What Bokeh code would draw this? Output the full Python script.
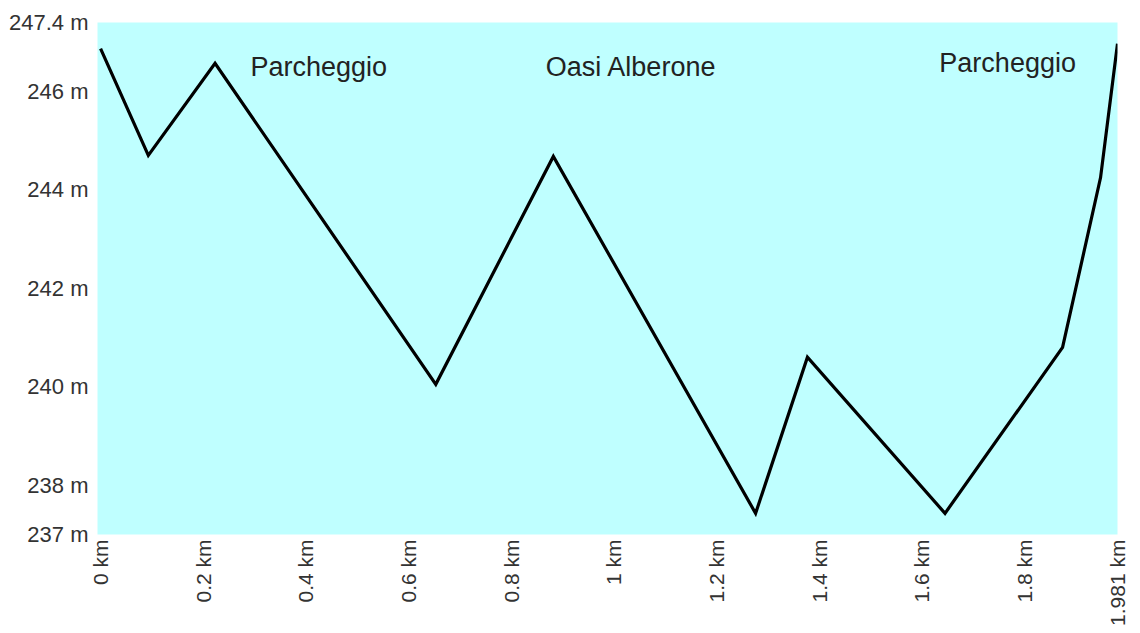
import math
from bokeh.plotting import figure
from bokeh.models import FixedTicker, CustomJSTickFormatter, Range1d, ColumnDataSource
from bokeh.core.properties import value
from bokeh.embed import file_html
from bokeh.resources import INLINE

# Elevation profile data (distance in km, elevation in m)
distance_km = [0.0, 0.093, 0.223, 0.653, 0.882, 1.276, 1.377, 1.645, 1.874, 1.948, 1.981]
elevation_m = [246.87, 244.70, 246.57, 240.05, 244.68, 237.43, 240.60, 237.43, 240.80, 244.25, 246.97]

# Waypoint labels
label_names = ["Parcheggio", "Oasi Alberone", "Parcheggio"]
label_km = [0.425, 1.034, 1.767]
label_m = [246.49, 246.49, 246.57]

# Tick values
x_ticks = [0, 0.2, 0.4, 0.6, 0.8, 1, 1.2, 1.4, 1.6, 1.8, 1.981]
y_ticks = [237, 238, 240, 242, 244, 246, 247.4]

FONT = "Liberation Sans"

p = figure(width=1132, height=632, output_backend="svg", toolbar_location=None,
           x_range=Range1d(-0.006, 1.981), y_range=Range1d(237, 247.4),
           min_border_left=97, min_border_right=15, min_border_top=22, min_border_bottom=98)

p.background_fill_color = "#BFFFFF"
p.border_fill_color = "white"
p.outline_line_color = None
p.xgrid.grid_line_color = None
p.ygrid.grid_line_color = None

src = ColumnDataSource(dict(x=distance_km, y=elevation_m))
p.line("x", "y", source=src, line_color="black", line_width=3.2, line_join="miter")

lsrc = ColumnDataSource(dict(x=label_km, y=label_m, t=label_names))
p.text("x", "y", text="t", source=lsrc, text_font=value(FONT), text_font_size="27px",
       text_color="#222222", text_align="center", text_baseline="alphabetic")

p.xaxis.ticker = FixedTicker(ticks=x_ticks)
p.yaxis.ticker = FixedTicker(ticks=y_ticks)
p.xaxis.formatter = CustomJSTickFormatter(code="return tick + ' km';")
p.yaxis.formatter = CustomJSTickFormatter(code="return tick + ' m';")
p.xaxis.major_label_orientation = math.pi / 2

for ax in (p.xaxis, p.yaxis):
    ax.axis_line_color = None
    ax.major_tick_line_color = None
    ax.minor_tick_line_color = None
    ax.major_tick_out = 0
    ax.major_tick_in = 0
    ax.major_label_text_font = FONT
    ax.major_label_text_color = "#333333"

p.yaxis.major_label_text_font_size = "22px"
p.xaxis.major_label_text_font_size = "21px"
p.yaxis.major_label_standoff = 9
p.xaxis.major_label_standoff = 5

open("out.html", "w").write(file_html(p, INLINE))
